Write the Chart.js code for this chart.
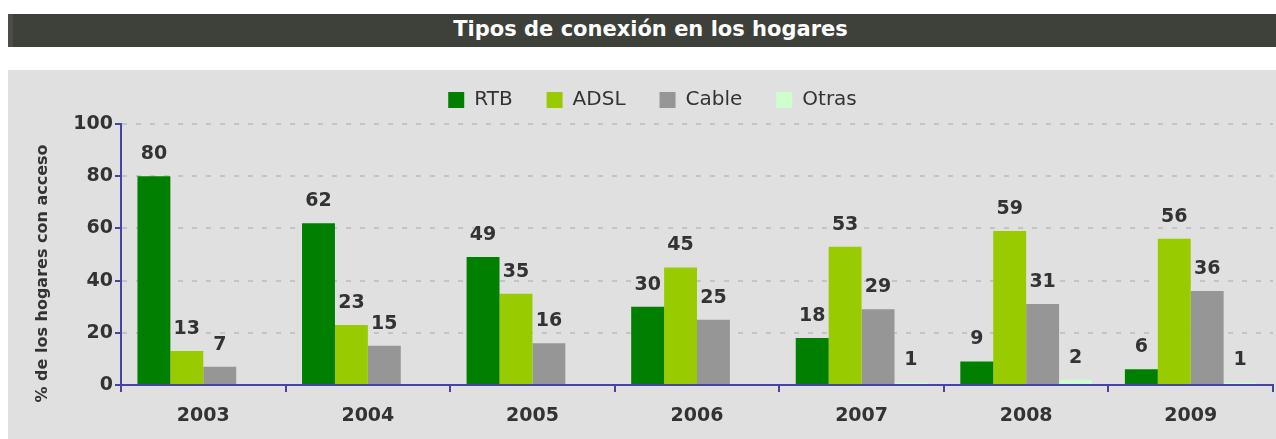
<!DOCTYPE html>
<html>
<head>
<meta charset="utf-8">
<script src="https://cdn.jsdelivr.net/npm/chart.js@4"></script>
<style>
    body { margin: 0; background: #ffffff; width: 1276px; height: 439px; overflow: hidden; position: relative; }
    #titleBar {
        position: absolute; left: 8px; top: 14px; width: 1268px; height: 33px;
        background: #3e403a; border-left: 5px solid #4c4d48; box-sizing: border-box;
        color: #ffffff; font: bold 21px "DejaVu Sans", sans-serif;
        text-align: center; line-height: 31px; padding-left: 12px;
    }
    #panel {
        position: absolute; left: 8px; top: 70px; width: 1268px; height: 369px;
        background: #e0e0e0;
    }
</style>
</head>
<body>

<div id="titleBar">Tipos de conexión en los hogares</div>
<div id="panel"><canvas id="chartHogares" width="1268" height="369"></canvas></div>

<script>

const years = ['2003', '2004', '2005', '2006', '2007', '2008', '2009'];
const rtb = [80, 62, 49, 30, 18, 9, 6];
const adsl = [13, 23, 35, 45, 53, 59, 56];
const cable = [7, 15, 16, 25, 29, 31, 36];
const otras = [null, null, null, null, 1, 2, 1];
const yTicks = [0, 20, 40, 60, 80, 100];

const axisBlue = '#4444a4';
const textGray = '#333333';

// valores encima de cada barra
const valueLabels = {
    id: 'valueLabels',
    afterDatasetsDraw(chart) {
        const ctx = chart.ctx;
        ctx.save();
        ctx.font = 'bold 19px "DejaVu Sans", sans-serif';
        ctx.fillStyle = textGray;
        ctx.textAlign = 'center';
        ctx.textBaseline = 'middle';
        chart.data.datasets.forEach(function (ds, i) {
            chart.getDatasetMeta(i).data.forEach(function (bar, j) {
                if (ds.data[j] === null) return;
                ctx.fillText(ds.data[j], bar.x, bar.y - 22);
            });
        });
        ctx.restore();
    }
};

// titulo del eje Y, un poco por debajo del centro
const yTitle = {
    id: 'yTitle',
    afterDraw(chart) {
        const ctx = chart.ctx;
        const area = chart.chartArea;
        ctx.save();
        ctx.translate(35, (area.top + area.bottom) / 2 + 19);
        ctx.rotate(-Math.PI / 2);
        ctx.font = 'bold 16px "DejaVu Sans", sans-serif';
        ctx.fillStyle = textGray;
        ctx.textAlign = 'center';
        ctx.textBaseline = 'middle';
        ctx.fillText('% de los hogares con acceso', 0, 0);
        ctx.restore();
    }
};

// altura fija de la leyenda y un poco desplazada a la derecha
const legendTweak = {
    id: 'legendTweak',
    afterInit(chart) {
        const legend = chart.legend;
        const fit = legend.fit;
        const draw = legend.draw;
        legend.fit = function () {
            fit.call(this);
            this.height += 4;
        };
        legend.draw = function () {
            this.ctx.save();
            this.ctx.translate(12, 0);
            draw.call(this);
            this.ctx.restore();
        };
    }
};

function chartHogares() {

    const ctx = document.getElementById('chartHogares');

    new Chart(ctx, {
        type: 'bar',
        data: {
            labels: years,
            datasets: [
                { label: 'RTB', data: rtb, backgroundColor: '#007f00' },
                { label: 'ADSL', data: adsl, backgroundColor: '#99cc00' },
                { label: 'Cable', data: cable, backgroundColor: '#969696' },
                { label: 'Otras', data: otras, backgroundColor: '#ccffcc' }
            ]
        },
        plugins: [valueLabels, yTitle, legendTweak],
        options: {
            responsive: false,
            animation: false,
            layout: {
                padding: { top: -14, right: 3, bottom: 0, left: 0 }
            },
            datasets: {
                bar: {
                    categoryPercentage: 0.8,
                    barPercentage: 1.0,
                    borderWidth: 0
                }
            },
            plugins: {
                legend: {
                    position: 'top',
                    labels: {
                        boxWidth: 16,
                        boxHeight: 16,
                        padding: 34,
                        color: textGray,
                        font: { family: '"DejaVu Sans", sans-serif', size: 20 }
                    }
                },
                tooltip: { enabled: false }
            },
            scales: {
                x: {
                    afterFit: function (scale) { scale.height = 54; },
                    grid: {
                        offset: true,
                        drawOnChartArea: false,
                        tickColor: axisBlue,
                        tickLength: 7,
                        lineWidth: 2
                    },
                    border: { color: axisBlue, width: 2 },
                    ticks: {
                        padding: 13,
                        color: textGray,
                        font: { family: '"DejaVu Sans", sans-serif', size: 19, weight: 'bold' }
                    }
                },
                y: {
                    min: 0,
                    max: 100,
                    afterFit: function (scale) { scale.width = 113; },
                    afterBuildTicks: function (scale) {
                        scale.ticks = yTicks.map(function (v) { return { value: v }; });
                    },
                    grid: {
                        color: function (c) { return c.tick && c.tick.value === 0 ? 'rgba(0,0,0,0)' : '#c4c4c4'; },
                        lineWidth: 2,
                        tickColor: axisBlue,
                        tickLength: 6,
                        tickBorderDash: [],
                        tickWidth: 2
                    },
                    border: { color: axisBlue, width: 2, dash: [5, 9] },
                    ticks: {
                        padding: 2,
                        color: textGray,
                        font: { family: '"DejaVu Sans", sans-serif', size: 19, weight: 'bold' }
                    }
                }
            }
        }
    });

}

chartHogares();

</script>
</body>
</html>
